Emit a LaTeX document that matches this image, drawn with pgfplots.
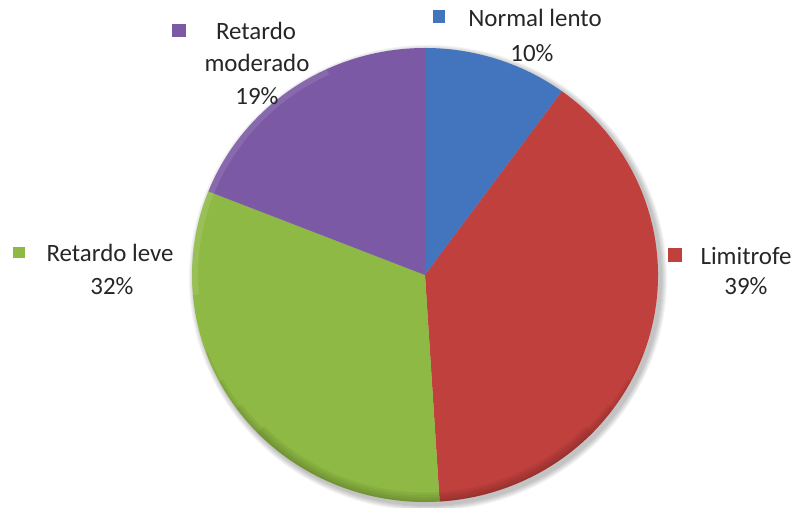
\documentclass[border=0pt]{standalone}
\usepackage{pgfplots}
\pgfplotsset{compat=1.18}
\usepackage{pgfplotstable}
\usepackage{fontspec}
\setmainfont{Carlito}

\definecolor{cblue}{HTML}{4374BE}
\definecolor{cred}{HTML}{C0403D}
\definecolor{cgreen}{HTML}{8EB944}
\definecolor{cpurple}{HTML}{7B59A5}
\definecolor{txt}{HTML}{262626}

\tikzset{lbl/.style={font=\fontsize{25}{30}\selectfont, text=txt, inner sep=0pt, anchor=base}}

% share of each category (%), clockwise from 12 o'clock
\pgfplotstableread{
cat value color
NormalLento 10 cblue
Limitrofe 39 cred
RetardoLeve 32 cgreen
RetardoModerado 19 cpurple
}\piedata

\begin{document}
\begin{tikzpicture}
\begin{axis}[
    name=ax,
    width=798bp, height=508bp, scale only axis,
    xmin=0, xmax=798, ymin=0, ymax=508,
    hide axis, clip=false,
]
% soft shadow
\pgfplotsinvokeforeach{1,...,6}{
  \fill[black,opacity=0.045] (axis cs:428,230) ellipse[x radius={233bp+#1bp}, y radius={227bp+#1bp}];
}
% slices
\def\cum{90}
\pgfplotsforeachungrouped \i in {0,...,3}{
  \pgfplotstablegetelem{\i}{value}\of\piedata \let\v\pgfplotsretval
  \pgfplotstablegetelem{\i}{color}\of\piedata \let\c\pgfplotsretval
  \pgfmathsetmacro\endang{\cum-3.6*\v}
  \edef\temp{\noexpand\fill[\c] (axis cs:425,233) -- (axis cs:{425+233*cos(\cum)},{233+227*sin(\cum)})
     arc[start angle=\cum, end angle=\endang, x radius=233bp, y radius=227bp] -- cycle;}
  \temp
  \global\let\cum\endang
}
% darker rim at the bottom, built up in thin layers
\pgfplotsinvokeforeach{0,1,2,3}{
  \draw[black,opacity=0.05,line width={2bp+2.5bp*#1}]
     (axis cs:{425+(232-1.25*#1)*cos(200+8*#1)},{233+(226-1.25*#1)*sin(200+8*#1)})
     arc[start angle={200+8*#1}, end angle={340-8*#1}, x radius={232bp-1.25bp*#1}, y radius={226bp-1.25bp*#1}];
}
% highlight at the top left
\draw[white,opacity=0.10,line width=6bp] (axis cs:{425+230*cos(115)},{233+224*sin(115)})
   arc[start angle=115, end angle=185, x radius=230bp, y radius=224bp];

% labels
\fill[cblue] (axis cs:433,485) rectangle (axis cs:445,498);
\node[lbl] at (axis cs:535,481) {Normal lento};
\node[lbl] at (axis cs:532,446) {10\%};

\fill[cred] (axis cs:668,246) rectangle (axis cs:682,260);
\node[lbl] at (axis cs:746,243) {Limitrofe};
\node[lbl] at (axis cs:746,213) {39\%};

\fill[cgreen] (axis cs:13,250) rectangle (axis cs:25,261);
\node[lbl] at (axis cs:110,246) {Retardo leve};
\node[lbl] at (axis cs:112,213) {32\%};

\fill[cpurple] (axis cs:172,471) rectangle (axis cs:186,484);
\node[lbl] at (axis cs:256,468) {Retardo};
\node[lbl] at (axis cs:257,436) {moderado};
\node[lbl] at (axis cs:257,403) {19\%};
\end{axis}
\pgfresetboundingbox
\path (ax.south west) rectangle (ax.north east);
\end{tikzpicture}
\end{document}
